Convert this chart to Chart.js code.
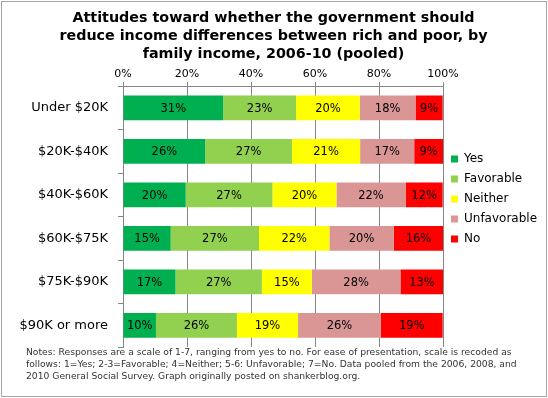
<!DOCTYPE html>
<html>
<head>
<meta charset="utf-8">
<script src="https://cdn.jsdelivr.net/npm/chart.js@4"></script>
<style>
html,body{margin:0;padding:0;background:#fff;}
#wrap{position:relative;width:548px;height:398px;}
</style>
</head>
<body>
<div id="wrap"><canvas id="c" width="548" height="398"></canvas></div>
<script>
// ---- data ----
const categories = ["Under $20K", "$20K-$40K", "$40K-$60K", "$60K-$75K", "$75K-$90K", "$90K or more"];
const seriesNames = ["Yes", "Favorable", "Neither", "Unfavorable", "No"];
// bar widths (percent)
const yesValues         = [31.3, 25.7, 19.6, 14.9, 16.4, 10.3];
const favorableValues   = [22.8, 27.1, 27.1, 27.6, 27.0, 25.3];
const neitherValues     = [19.9, 21.3, 20.0, 22.0, 15.6, 19.1];
const unfavorableValues = [17.4, 16.9, 21.6, 20.1, 27.7, 25.9];
const noValues          = [8.5, 9.0, 11.6, 15.5, 13.4, 19.3];
// printed labels inside bars
const yesLabels         = [31, 26, 20, 15, 17, 10];
const favorableLabels   = [23, 27, 27, 27, 27, 26];
const neitherLabels     = [20, 21, 20, 22, 15, 19];
const unfavorableLabels = [18, 17, 22, 20, 28, 26];
const noLabels          = [9, 9, 12, 16, 13, 19];
const xTicks = [0, 20, 40, 60, 80, 100];

const titleLines = ["Attitudes toward whether the government should", "reduce income differences between rich and poor, by", "family income, 2006-10 (pooled)"];
const noteLines = [
  "Notes: Responses are a scale of 1-7, ranging from yes to no. For ease of presentation, scale is recoded as",
  "follows: 1=Yes; 2-3=Favorable; 4=Neither; 5-6: Unfavorable; 7=No. Data pooled from the 2006, 2008, and",
  "2010 General Social Survey. Graph originally posted on shankerblog.org."
];

const colors = ["#00B050", "#92D050", "#FFFF00", "#D99694", "#FF0000"];
const allValues = [yesValues, favorableValues, neitherValues, unfavorableValues, noValues];
const allLabels = [yesLabels, favorableLabels, neitherLabels, unfavorableLabels, noLabels];

const FONT = "'DejaVu Sans', Verdana, sans-serif";

const datasets = seriesNames.map((n, i) => ({
  label: n,
  data: allValues[i],
  valueLabels: allLabels[i],
  backgroundColor: colors[i],
  borderWidth: 0,
  categoryPercentage: 1,
  barPercentage: 0.57
}));

const barLabels = {
  id: 'barLabels',
  afterDatasetsDraw(chart) {
    const ctx = chart.ctx;
    ctx.save();
    ctx.font = "11.5px " + FONT;
    ctx.fillStyle = "#000";
    ctx.textAlign = "center";
    ctx.textBaseline = "middle";
    chart.data.datasets.forEach((ds, i) => {
      const meta = chart.getDatasetMeta(i);
      meta.data.forEach((bar, j) => {
        const p = bar.getCenterPoint();
        ctx.fillText(ds.valueLabels[j] + "%", p.x, p.y + 1);
      });
    });
    ctx.restore();
  }
};

const frame = {
  id: 'frame',
  afterLayout(chart) {
    if (chart.titleBlock) { chart.titleBlock.left = 26; }
  },
  afterDraw(chart) {
    const ctx = chart.ctx;
    ctx.save();
    ctx.strokeStyle = "#a6a6a6";
    ctx.lineWidth = 1;
    ctx.strokeRect(1.5, 1.5, 545, 395);
    ctx.restore();
  }
};

new Chart(document.getElementById('c'), {
  type: 'bar',
  data: { labels: categories, datasets: datasets },
  plugins: [barLabels, frame],
  options: {
    indexAxis: 'y',
    responsive: false,
    animation: false,
    layout: { padding: { left: 0, right: 1, top: 0, bottom: 0 } },
    scales: {
      x: {
        position: 'top',
        stacked: true,
        min: 0, max: 100,
        afterBuildTicks(scale) { scale.ticks = xTicks.map(v => ({ value: v })); },
        ticks: { callback: v => v + "%", color: "#000", font: { family: FONT, size: 11 }, padding: 2, maxRotation: 0 },
        grid: { color: "#868686", tickLength: 4, lineWidth: 1 },
        border: { color: "#868686" }
      },
      y: {
        stacked: true,
        afterFit(scale) { scale.width = 123; },
        ticks: { color: "#000", font: { family: FONT, size: 13 }, padding: 10 },
        grid: { offset: true, drawOnChartArea: false, tickLength: 5, color: "#868686" },
        border: { color: "#868686" }
      }
    },
    plugins: {
      legend: {
        position: 'right',
        maxWidth: 104,
        labels: { boxWidth: 7, boxHeight: 7, padding: 8, color: "#000", font: { family: FONT, size: 12 } }
      },
      subtitle: {
        display: true,
        position: 'top',
        text: titleLines,
        color: "#000",
        font: { family: FONT, size: 14.3, weight: 'bold', lineHeight: 1.26 },
        padding: { top: 9, bottom: 2 }
      },
      title: {
        display: true,
        position: 'bottom',
        align: 'start',
        text: noteLines,
        color: "#333",
        font: { family: FONT, size: 9.2, weight: 'normal', lineHeight: 1.304 },
        padding: { top: 0, bottom: 15 }
      },
      tooltip: { enabled: false }
    }
  }
});
</script>
</body>
</html>
